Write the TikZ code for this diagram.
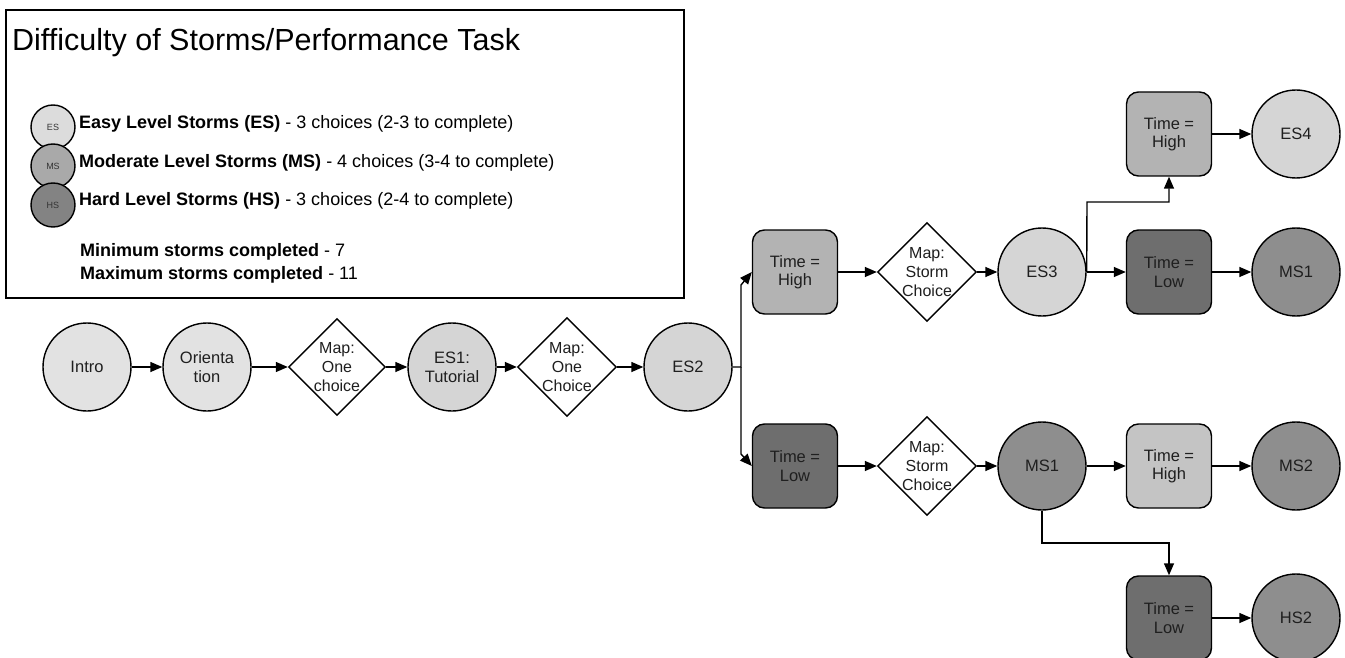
\documentclass[tikz,border=0pt]{standalone}
\usepackage{fontspec}
\setmainfont{Liberation Sans}
\usetikzlibrary{shapes.geometric,arrows.meta}
\definecolor{startgray}{HTML}{E2E2E2}
\definecolor{easygray}{HTML}{D5D5D5}
\definecolor{modgray}{HTML}{8E8E8E}
\definecolor{highgray}{HTML}{B3B3B3}
\definecolor{highgraylt}{HTML}{C4C4C4}
\definecolor{lowgray}{HTML}{6E6E6E}
\definecolor{keyeasy}{HTML}{DCDCDC}
\definecolor{keymod}{HTML}{A9A9A9}
\definecolor{keyhard}{HTML}{838383}
\begin{document}
\begin{tikzpicture}[x=1pt,y=-1pt,
  storm/.style={circle,draw,line width=1.4pt,minimum size=88pt,inner sep=0pt,align=center,text=black!88,font=\fontsize{16.5}{19}\selectfont},
  mapbox/.style={diamond,draw,line width=1.4pt,fill=white,minimum width=97pt,minimum height=97pt,inner sep=0pt,align=center,text=black!88,font=\fontsize{16}{19}\selectfont},
  timebox/.style={rectangle,rounded corners=12pt,draw,line width=1.4pt,minimum width=85pt,minimum height=84pt,align=center,text=black!88,font=\fontsize{16.5}{18.5}\selectfont},
  keydot/.style={circle,draw,line width=1.4pt,minimum size=44pt,inner sep=0pt,text=black!80,font=\fontsize{9}{9}\selectfont},
  keytext/.style={anchor=west,inner sep=0pt,font=\fontsize{18}{20}\selectfont},
  conn/.style={line width=1.4pt,-{Triangle[length=12pt,width=10pt]}}]
\useasboundingbox (0,0) rectangle (1345,658);
\clip (0,0) rectangle (1345,658);

\coordinate (split) at (741,367);
\coordinate (splitup) at (741,285);
\coordinate (splitdown) at (741,454);
\coordinate (upbend) at (1087,202);
\coordinate (downbend) at (1042,543);

\draw[line width=1.4pt] (6,10) rectangle (684,298);
\node[anchor=west,inner sep=0pt,font=\fontsize{30.5}{36}\selectfont] (title) at (12,43) {Difficulty of Storms/Performance Task};
\node[keydot,fill=keyeasy] (keyes) at (53,127) {ES};
\node[keydot,fill=keymod] (keyms) at (53,166) {MS};
\node[keydot,fill=keyhard] (keyhs) at (53,205) {HS};
\node[keytext] (txtes) at (79,124) {\textbf{Easy Level Storms (ES)} - 3 choices (2-3 to complete)};
\node[keytext] (txtms) at (79,163) {\textbf{Moderate Level Storms (MS)} - 4 choices (3-4 to complete)};
\node[keytext] (txths) at (79,201) {\textbf{Hard Level Storms (HS)} - 3 choices (2-4 to complete)};
\node[keytext] (txtmin) at (80,252) {\textbf{Minimum storms completed} - 7};
\node[keytext] (txtmax) at (80,275) {\textbf{Maximum storms completed} - 11};

\node[storm,fill=startgray] (intro) at (87,367) {Intro};
\node[storm,fill=startgray] (orient) at (207,367) {Orienta\\tion};
\node[mapbox] (mapone) at (337,367) {Map:\\One\\choice};
\node[storm,fill=easygray] (esone) at (452,367) {ES1:\\Tutorial};
\node[mapbox] (maptwo) at (567,367) {Map:\\One\\Choice};
\node[storm,fill=easygray] (estwo) at (688,367) {ES2};

\node[timebox,fill=highgray] (thA) at (795,272) {Time =\\High};
\node[mapbox] (mapA) at (927,272) {Map:\\Storm\\Choice};
\node[storm,fill=easygray] (esthree) at (1042,272) {ES3};
\node[timebox,fill=lowgray] (tlA) at (1169,272) {Time =\\Low};
\node[storm,fill=modgray] (msoneA) at (1296,272) {MS1};
\node[timebox,fill=highgray] (thC) at (1169,134) {Time =\\High};
\node[storm,fill=easygray] (esfour) at (1296,134) {ES4};

\node[timebox,fill=lowgray] (tlB) at (795,466) {Time =\\Low};
\node[mapbox] (mapB) at (927,466) {Map:\\Storm\\Choice};
\node[storm,fill=modgray] (msoneB) at (1042,466) {MS1};
\node[timebox,fill=highgraylt] (thD) at (1169,466) {Time =\\High};
\node[storm,fill=modgray] (mstwo) at (1296,466) {MS2};
\node[timebox,fill=lowgray] (tlC) at (1169,618) {Time =\\Low};
\node[storm,fill=modgray] (hstwo) at (1296,618) {HS2};

\draw[conn] (intro) -- (orient);
\draw[conn] (orient) -- (mapone);
\draw[conn] (mapone) -- (esone);
\draw[conn] (esone) -- (maptwo);
\draw[conn] (maptwo) -- (estwo);
\draw[conn] (estwo) -- (split) -- (splitup) -- (thA.west);
\draw[conn] (split) -- (splitdown) -- (tlB.west);
\draw[conn] (thA) -- (mapA);
\draw[conn] (mapA) -- (esthree);
\draw[conn] (esthree) -- (tlA);
\draw[conn] (tlA) -- (msoneA);
\draw[conn] (esthree.east) -- (upbend) -| (thC);
\draw[conn] (thC) -- (esfour);
\draw[conn] (tlB) -- (mapB);
\draw[conn] (mapB) -- (msoneB);
\draw[conn] (msoneB) -- (thD);
\draw[conn] (thD) -- (mstwo);
\draw[conn] (msoneB.south) -- (downbend) -| (tlC);
\draw[conn] (tlC) -- (hstwo);
\end{tikzpicture}
\end{document}
